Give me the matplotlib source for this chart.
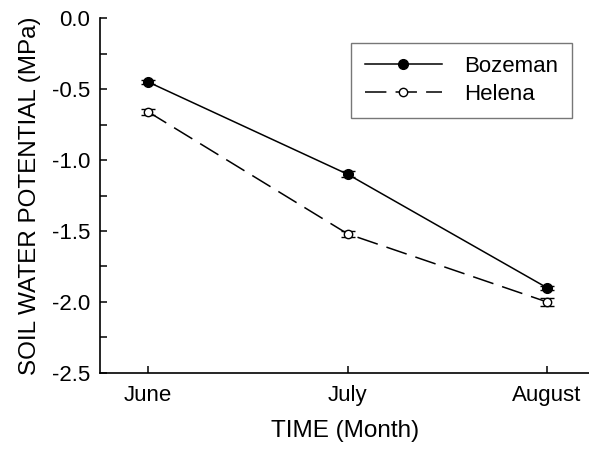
import matplotlib
matplotlib.use("Agg")
import matplotlib.pyplot as plt
from matplotlib.ticker import MultipleLocator

plt.rcParams['font.family'] = ['Liberation Sans', 'DejaVu Sans']

months = ["June", "July", "August"]
bozeman = [-0.45, -1.10, -1.90]
bozeman_err = [0.015, 0.02, 0.015]
helena = [-0.66, -1.52, -2.00]
helena_err = [0.02, 0.02, 0.03]

fig = plt.figure(figsize=(5.89, 4.51), dpi=100)
ax = fig.add_axes([0.170, 0.173, 0.830, 0.787])

x = list(range(len(months)))
ax.errorbar(x, bozeman, yerr=bozeman_err, fmt='none', ecolor='black',
            capsize=5, elinewidth=1)
ax.errorbar(x, helena, yerr=helena_err, fmt='none', ecolor='black',
            capsize=5, elinewidth=1)
ax.plot(x, bozeman, color='black', lw=1.1, marker='o', markersize=7,
        markerfacecolor='black', label='Bozeman')
ax.plot(x, helena, color='black', lw=1.1, marker='o', markersize=6,
        markerfacecolor='white', linestyle=(0, (14, 6)), label='Helena')

ax.set_xlim(-0.24, 2.21)
ax.set_ylim(-2.5, 0.0)
ax.set_xticks(x)
ax.set_xticklabels(months)
ax.yaxis.set_major_locator(MultipleLocator(0.5))
ax.yaxis.set_minor_locator(MultipleLocator(0.25))
ax.set_yticklabels([f"{v:.1f}" for v in ax.get_yticks()])

for s in ['top', 'right']:
    ax.spines[s].set_visible(False)
for s in ['left', 'bottom']:
    ax.spines[s].set_linewidth(1.2)

ax.tick_params(axis='both', which='both', direction='in', length=5, width=1.1,
               labelsize=16)
ax.tick_params(axis='x', pad=9)
ax.tick_params(axis='y', pad=7)

ax.set_xlabel("TIME (Month)", fontsize=17.5, labelpad=10)
ax.set_ylabel("SOIL WATER POTENTIAL (MPa)", fontsize=17.5, labelpad=8)

leg = ax.legend(loc='upper right', bbox_to_anchor=(0.965, 0.93), fontsize=16,
                handlelength=3.5, frameon=True, fancybox=False, borderpad=0.6,
                labelspacing=0.3, handletextpad=1.0, borderaxespad=0.0)
leg.get_frame().set_edgecolor('#555555')
leg.get_frame().set_linewidth(1.0)

fig.savefig("out.png", dpi=100)
